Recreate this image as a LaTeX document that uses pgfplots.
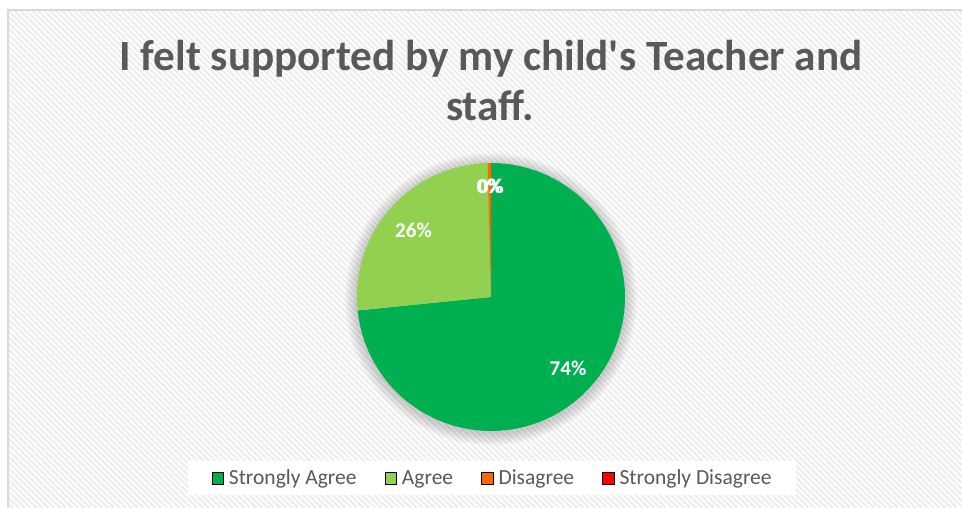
\documentclass[border=0pt]{standalone}
\usepackage{pgfplots}
\pgfplotsset{compat=1.18}
\usepackage{fontspec}
\setmainfont{Carlito}
\usetikzlibrary{patterns.meta}
\definecolor{sagree}{HTML}{00B050}
\definecolor{agree}{HTML}{92D050}
\definecolor{disagree}{HTML}{FF6600}
\definecolor{sdisagree}{HTML}{FF0000}
\definecolor{txt}{HTML}{595959}
\definecolor{frame}{HTML}{D9D9D9}
% survey shares in percent
\def\pSA{73.4}
\def\pA{26.2}
\def\pD{0.4}
\def\pSD{0.0}
\pgfmathsetmacro\aStart{90}
\pgfmathsetmacro\aB{\aStart-\pSA*3.6}
\pgfmathsetmacro\aC{\aB-\pA*3.6}
\pgfmathsetmacro\aD{\aC-\pD*3.6}
\def\cx{491}
\def\cy{210}
\def\R{134}
\begin{document}
\begin{tikzpicture}[x=1pt,y=1pt]
\useasboundingbox (0,0) rectangle (962,507);
\fill[white] (0,0) rectangle (962,507);
\fill[pattern={Lines[angle=-45,distance=4.2pt,line width=2pt]}, pattern color=black!7] (8,0) rectangle (975,497);
\draw[frame, line width=1.5pt] (8,-5) -- (8,497) -- (975,497);
\begin{axis}[at={(0,0)}, anchor=south west, scale only axis,
  width=962pt, height=507pt, xmin=0, xmax=962, ymin=0, ymax=507,
  hide axis, clip=false,
  legend image code/.code={\fill[#1] (0pt,-5.75pt) rectangle (11.5pt,5.75pt);},
  legend columns=4,
  legend style={at={(0.5110,0.0568)}, anchor=center, fill=white, draw=none,
    font=\fontsize{21.5}{25}\selectfont, text=txt,
    inner xsep=24pt, inner ysep=9pt,
    nodes={inner sep=0pt},
    /tikz/every odd column/.append style={column sep=5.5pt},
    /tikz/every even column/.append style={column sep=28pt}},
]
% soft shadow
\foreach \k in {2,4,6,8,10,12} {
  \addplot[forget plot, fill=black, draw=none, opacity=0.03, domain=0:360, samples=120, variable=\t]
    ({\cx+(\R+\k)*cos(t)}, {\cy-2+(\R+\k)*sin(t)}) -- cycle;
}
\addplot[forget plot, fill=sagree, draw=none, domain=\aB:\aStart, samples=150, variable=\t]
  ({\cx+\R*cos(t)}, {\cy+\R*sin(t)}) -- (axis cs:\cx,\cy) -- cycle;
\addplot[forget plot, fill=agree, draw=none, domain=\aC:\aB, samples=80, variable=\t]
  ({\cx+\R*cos(t)}, {\cy+\R*sin(t)}) -- (axis cs:\cx,\cy) -- cycle;
\addplot[forget plot, fill=disagree, draw=none, domain=\aD:\aC, samples=10, variable=\t]
  ({\cx+\R*cos(t)}, {\cy+\R*sin(t)}) -- (axis cs:\cx,\cy) -- cycle;
\addlegendimage{fill=sagree}
\addlegendentry{Strongly Agree}
\addlegendimage{fill=agree}
\addlegendentry{Agree}
\addlegendimage{fill=disagree}
\addlegendentry{Disagree}
\addlegendimage{fill=sdisagree}
\addlegendentry{Strongly Disagree}
% data labels
\node[font=\bfseries\fontsize{21}{25}\selectfont, text=white] at (axis cs:568,139) {74\%};
\node[font=\bfseries\fontsize{21}{25}\selectfont, text=white] at (axis cs:413.5,276.3) {26\%};
\node[font=\bfseries\fontsize{21}{25}\selectfont, text=white] at (axis cs:489.5,320.5) {0\%};
\node[font=\bfseries\fontsize{21}{25}\selectfont, text=white] at (axis cs:491,320.5) {0\%};
% title
\node[anchor=base, font=\bfseries\fontsize{43.2}{50}\selectfont, text=txt] at (axis cs:491,436) {I felt supported by my child\textquotesingle s Teacher and};
\node[anchor=base, font=\bfseries\fontsize{43.2}{50}\selectfont, text=txt] at (axis cs:490,386) {staff.};
\end{axis}
\end{tikzpicture}
\end{document}
